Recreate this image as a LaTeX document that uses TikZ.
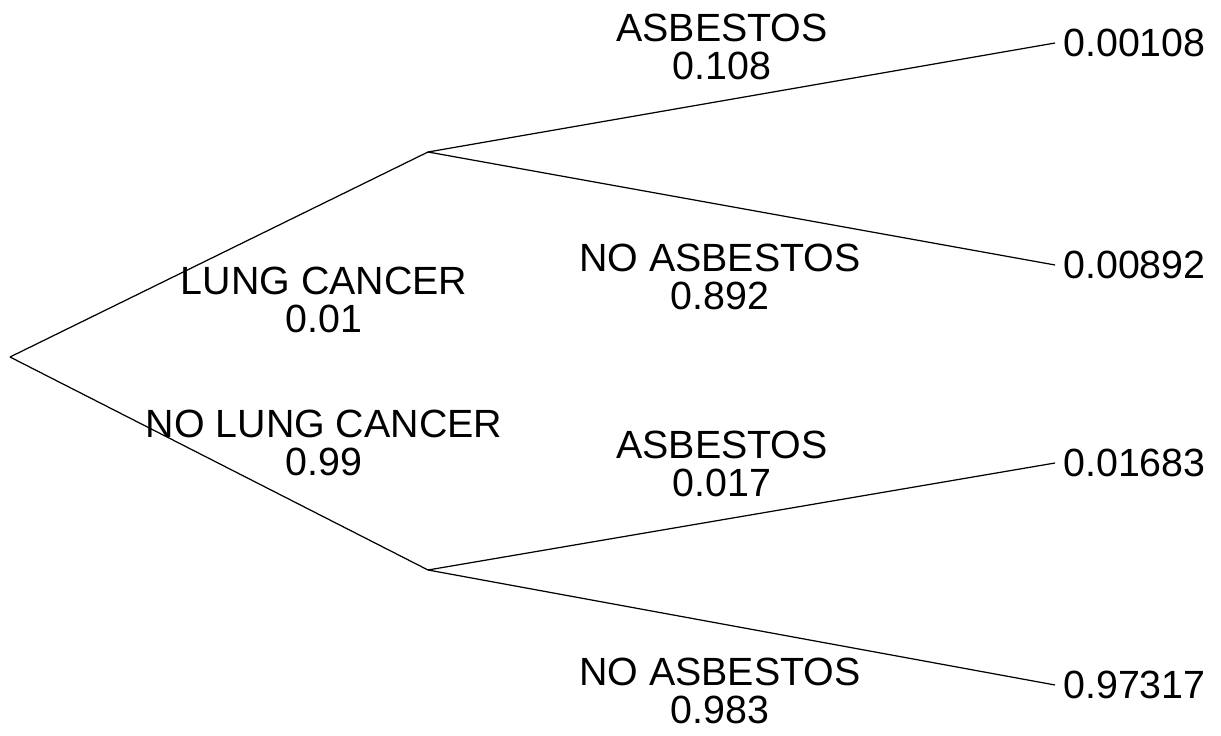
\documentclass[tikz,border=0pt]{standalone}
\usepackage{fontspec}
\setmainfont{Liberation Sans}
\begin{document}
\begin{tikzpicture}[x=0.02cm,y=-0.02cm,
  lbl/.style={font=\fontsize{22.4}{21.8}\selectfont, align=center, inner sep=0pt},
  leaf/.style={font=\fontsize{22.4}{21.8}\selectfont, anchor=west, inner xsep=0.16cm, inner ysep=0pt},
  br/.style={draw=black, line width=0.7pt}]
\useasboundingbox (0,0) rectangle (1221,736);
\coordinate (root) at (10,357);
\coordinate (up) at (428,152);
\coordinate (dn) at (428,570);
\node[leaf] (l1) at (1055,43) {0.00108};
\node[leaf] (l2) at (1055,265) {0.00892};
\node[leaf] (l3) at (1055,463) {0.01683};
\node[leaf] (l4) at (1055,685) {0.97317};
\draw[br] (root) -- (up);
\draw[br] (root) -- (dn);
\draw[br] (up) -- (l1.west);
\draw[br] (up) -- (l2.west);
\draw[br] (dn) -- (l3.west);
\draw[br] (dn) -- (l4.west);
\node[lbl] (t1) at (722,47) {ASBESTOS\\0.108};
\node[lbl] (t2) at (720,277) {NO ASBESTOS\\0.892};
\node[lbl] (t3) at (324,300) {LUNG CANCER\\0.01};
\node[lbl] (t4) at (324,443) {NO LUNG CANCER\\0.99};
\node[lbl] (t5) at (722,464) {ASBESTOS\\0.017};
\node[lbl] (t6) at (720,691) {NO ASBESTOS\\0.983};
\end{tikzpicture}
\end{document}
